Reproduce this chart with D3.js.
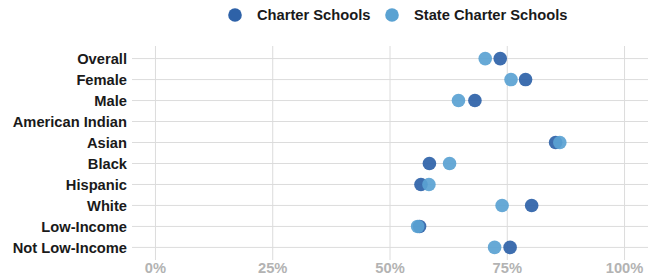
<!DOCTYPE html>
<html>
<head>
<meta charset="utf-8" />
<script src="https://cdnjs.cloudflare.com/ajax/libs/d3/7.8.5/d3.min.js"></script>
<style>
	body { margin: 0; background: #fff; }
	svg text { font-family: "Liberation Sans", Arial, sans-serif; font-weight: bold; }
</style>
</head>
<body>
<svg id="chart" width="658" height="278"></svg>
<script>
// groups, top to bottom
const groups = ['Overall', 'Female', 'Male', 'American Indian', 'Asian', 'Black', 'Hispanic', 'White', 'Low-Income', 'Not Low-Income'];
// values in percent, null where there is no value
const charter = [73.5, 78.9, 68.1, null, 85.3, 58.4, 56.6, 80.2, 56.3, 75.6];
const stateCharter = [70.3, 75.8, 64.6, null, 86.2, 62.7, 58.3, 73.9, 55.9, 72.3];
const xTicks = [0, 25, 50, 75, 100];
const seriesNames = ['Charter Schools', 'State Charter Schools'];
const seriesColors = ['#2e62a8', '#5aa2d2'];

let svg = d3.select('#chart');
let panelLeft = 132, panelRight = 648, panelTop = 46, panelBottom = 260;

// ggplot style 5% expansion
let pad = (panelRight - panelLeft) * 0.05 / 1.1;
let x = d3.scaleLinear().domain([0, 100]).range([panelLeft + pad, panelRight - pad]);

let y = d3.scalePoint().domain(groups).range([panelTop, panelBottom]).padding(0.6);

// horizontal grid lines
svg.append('g')
	.selectAll('line')
	.data(groups)
	.enter()
	.append('line')
		.attr('x1', panelLeft).attr('x2', panelRight)
		.attr('y1', d => y(d)).attr('y2', d => y(d))
		.attr('stroke', '#dcdcdc').attr('stroke-width', 1);

// vertical grid lines
svg.append('g')
	.selectAll('line')
	.data(xTicks)
	.enter()
	.append('line')
		.attr('x1', d => x(d)).attr('x2', d => x(d))
		.attr('y1', panelTop).attr('y2', panelBottom)
		.attr('stroke', '#dcdcdc').attr('stroke-width', 1);

// y labels
svg.append('g')
	.selectAll('text')
	.data(groups)
	.enter()
	.append('text')
		.attr('x', panelLeft - 5)
		.attr('y', d => y(d))
		.attr('dy', '0.35em')
		.attr('text-anchor', 'end')
		.attr('font-size', '14.7px')
		.attr('fill', '#1a1a1a')
		.text(d => d);

// x labels
svg.append('g')
	.selectAll('text')
	.data(xTicks)
	.enter()
	.append('text')
		.attr('x', d => x(d))
		.attr('y', 273)
		.attr('text-anchor', 'middle')
		.attr('font-size', '14.7px')
		.attr('fill', '#b3b3b3')
		.text(d => d + '%');

// points: charter first, state charter on top
[charter, stateCharter].forEach(function(vals, s) {
	svg.append('g')
		.selectAll('circle')
		.data(groups.map((g, i) => ({ g: g, v: vals[i] })).filter(d => d.v !== null))
		.enter()
		.append('circle')
			.attr('cx', d => x(d.v))
			.attr('cy', d => y(d.g))
			.attr('r', 6.8)
			.attr('fill', seriesColors[s])
			.attr('fill-opacity', 0.92);
});

// legend
let legendX = [235, 392];
seriesNames.forEach(function(name, i) {
	svg.append('circle')
		.attr('cx', legendX[i]).attr('cy', 15).attr('r', 6.8)
		.attr('fill', seriesColors[i]);
	svg.append('text')
		.attr('x', legendX[i] + 22).attr('y', 15).attr('dy', '0.35em')
		.attr('font-size', '14.7px').attr('fill', '#1a1a1a')
		.text(name);
});
</script>
</body>
</html>
